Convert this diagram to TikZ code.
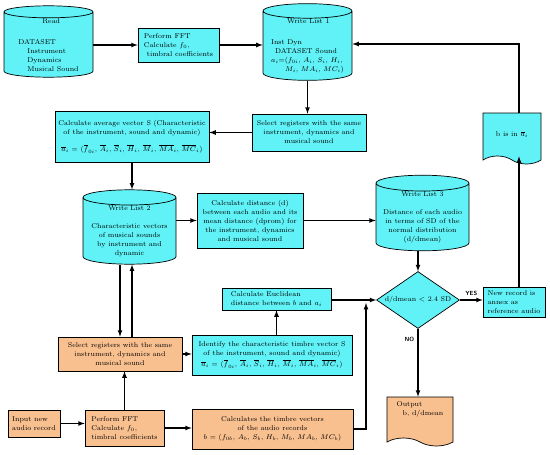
\documentclass[tikz,border=0pt]{standalone}
\usepackage{fontspec}
\usepackage{amsmath}
\usepackage{xcolor}
\usetikzlibrary{positioning,shapes.geometric,shapes.symbols}
\usetikzlibrary{arrows}
\definecolor{cyanbx}{RGB}{96,242,246}
\definecolor{orangebx}{RGB}{249,192,143}

\begin{document}
\begin{tikzpicture}[
	  x=1pt, y=-1pt,
	  font=\fontsize{7}{9}\selectfont,
	  %style for arrows
	  arrw/.style={line width=1.2pt, ->, >=latex},
	  % cyan boxes
	  cb/.style={rectangle, fill=cyanbx, draw=black, line width=0.7pt, inner sep=1pt, align=center},
	  % orange boxes
	  ob/.style={cb, fill=orangebx},
	  % databases
	  db/.style={cylinder, shape border rotate=90, aspect=0.2, anchor=shape center, fill=cyanbx, draw=black, line width=0.7pt, inner sep=0pt, align=center},
	  % documents
	  dc/.style={tape, tape bend top=none, tape bend bottom=out and in, tape bend height=8pt, draw=black, line width=0.7pt, inner sep=1pt},
	  % labels on the decision
	  yn/.style={font=\sffamily\bfseries\fontsize{6}{7}\selectfont}]

      \useasboundingbox (0,0) rectangle (550,455);

      %nodes
      \node[db, minimum width=89pt, minimum height=67pt, align=left](rd) at (48.5,41.5){\hspace*{24pt}Read\\[12pt]DATASET\\\hspace*{9pt}Instrument\\\hspace*{9pt}Dynamics\\\hspace*{9pt}Musical Sound};
      \node[cb, minimum width=81pt, minimum height=34pt, align=left](fft1) at (178.5,45){Perform FFT\\Calculate $f_0$,\\\hspace*{3pt}timbral coefficients};
      \node[db, minimum width=89pt, minimum height=72pt, align=left](wl1) at (307.5,42){\hspace*{16pt}Write List 1\\[12pt]Inst Dyn\\\hspace*{4pt}DATASET Sound\\$a_i$=($f_{0i}$, $A_i$, $S_i$, $H_i$,\\\hspace*{14pt}$M_i$, $MA_i$, $MC_i$)};
      \node[cb, minimum width=114pt, minimum height=37pt](sel1) at (309,132.5){Select registers with the same\\instrument, dynamics and\\musical sound};
      \node[cb, minimum width=154pt, minimum height=51pt](avg) at (132,136.5){Calculate average vector S (Characteristic\\of the instrument, sound and dynamic)\\[8pt]$\overline{a}_i$ = ($\overline{f}_{0i}$, $\overline{A}_i$, $\overline{S}_i$, $\overline{H}_i$, $\overline{M}_i$, $\overline{MA}_i$, $\overline{MC}_i$)};
      \node[db, minimum width=93pt, minimum height=70pt](wl2) at (129.5,227){Write List 2\\[9pt]Characteristic vectors\\of musical sounds\\by instrument and\\dynamic};
      \node[cb, minimum width=106pt, minimum height=55pt](dist) at (250,220.5){Calculate distance (d)\\between each audio and its\\mean distance (dprom) for\\the instrument, dynamics\\and musical sound};
      \node[db, minimum width=93pt, minimum height=60pt](wl3) at (422.5,213){Write List 3\\[9pt]Distance of each audio\\in terms of SD of the\\normal distribution\\(d/dmean)};
      \node[diamond, aspect=1.45, fill=cyanbx, draw=black, line width=0.7pt, minimum width=83pt, minimum height=57pt, inner sep=0pt](dia) at (418,300){d/dmean $<$ 2.4 SD};
      \node[cb, minimum width=62pt, minimum height=30pt, align=left](nrec) at (514,302){New record is\\annex as\\reference audio};
      \node[dc, fill=cyanbx, minimum width=58pt, minimum height=51pt](bin) at (512,134.5){b\ is\ in\ $\overline{a}_i$};
      \node[dc, fill=orangebx, minimum width=66pt, minimum height=49pt, align=left](out) at (420,417.5){Output\\\hspace*{6pt}b, d/dmean\\[8pt]\mbox{}};
      \node[cb, minimum width=109pt, minimum height=22pt, align=left](eucl) at (276.5,299){Calculate Euclidean\\distance between $b$ and $a_i$};
      \node[cb, minimum width=160pt, minimum height=40pt](ident) at (272,355){Identify the characteristic timbre vector S\\of the instrument, sound and dynamic)\\[2pt]$\overline{a}_i$ = ($\overline{f}_{0i}$, $\overline{A}_i$, $\overline{S}_i$, $\overline{H}_i$, $\overline{M}_i$, $\overline{MA}_i$, $\overline{MC}_i$)};
      \node[ob, minimum width=124pt, minimum height=34pt](sel2) at (120,354){Select registers with the same\\instrument, dynamics and\\musical sound};
      \node[ob, minimum width=52pt, minimum height=27pt, align=left](inp) at (34,423.5){Input new\\audio record};
      \node[ob, minimum width=79pt, minimum height=36pt, align=left](fft2) at (124.5,428){Perform FFT\\Calculate $f_0$,\\timbral coefficients};
      \node[ob, minimum width=161pt, minimum height=40pt](calc) at (272.5,429){Calculates the timbre vectors\\of the audio records\\$b$ = ($f_{0b}$, $A_b$, $S_b$, $H_b$, $M_b$, $MA_b$, $MC_b$)};
      \coordinate (rt) at (519,44);
      \coordinate (jn) at (366,303);

      %edges
      \draw[arrw](rd.east |- fft1) -- (fft1);
      \draw[arrw](fft1) -- (wl1.west |- fft1);
      \draw[arrw](wl1.south) -- (sel1.north -| wl1.south);
      \draw[arrw](sel1.west) -- (avg.east |- sel1.west);
      \draw[arrw](avg.south) -- (wl2.north -| avg.south);
      \draw[arrw](wl2.east |- dist) -- (dist);
      \draw[arrw](dist) -- (wl3.west |- dist);
      \draw[arrw](dia.north |- wl3.south) -- (dia.north);
      \draw[arrw](dia.east) -- node[yn, above]{YES} (nrec.west |- dia.east);
      \draw[arrw](nrec.north -| rt) -- (bin.south -| rt);
      \draw[arrw](bin.north -| rt) |- (wl1.east |- rt);
      \draw[arrw](dia.south) -- node[yn, left, pos=0.15]{NO} (out.north -| dia.south);
      \draw[arrw](eucl.east |- dia) -- (dia.west);
      \draw[arrw](calc.east) -| (jn);
      \draw[arrw](eucl.south |- ident.north) -- (eucl.south);
      \draw[arrw](sel2.east) -- (ident.west |- sel2.east);
      \draw[arrw]([xshift=-9.5pt]wl2.south) -- ([xshift=-9.5pt]wl2.south |- sel2.north);
      \draw[arrw]([xshift=2.5pt]wl2.south |- sel2.north) -- ([xshift=2.5pt]wl2.south);
      \draw[arrw](inp) -- (fft2.west |- inp);
      \draw[arrw](fft2.north) -- (fft2.north |- sel2.south);
      \draw[arrw](fft2) -- (calc.west |- fft2);
\end{tikzpicture}
\end{document}
